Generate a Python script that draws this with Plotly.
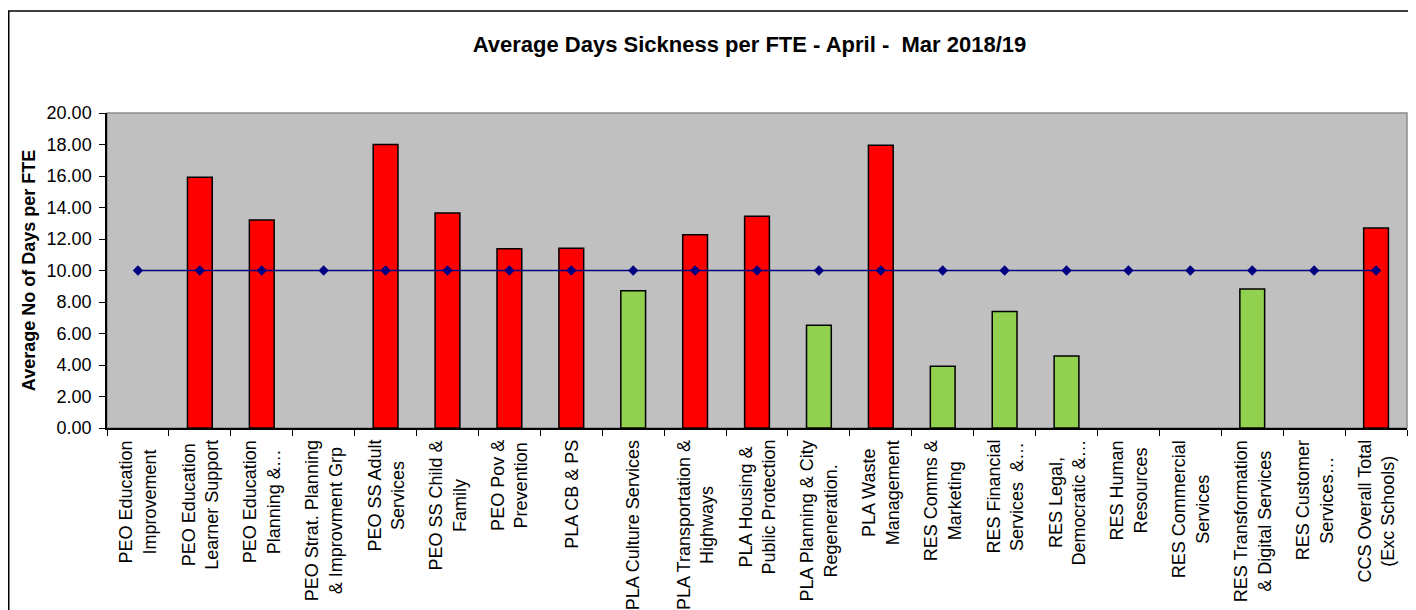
import plotly.graph_objects as go

categories = [
    "PEO Education<br>Improvement",
    "PEO Education<br>Learner Support",
    "PEO Education<br>Planning &…",
    "PEO Strat. Planning<br>& Improvment Grp",
    "PEO SS Adult<br>Services",
    "PEO SS Child &<br>Family",
    "PEO Pov &<br>Prevention",
    "PLA CB & PS",
    "PLA Culture Services",
    "PLA Transportation &<br>Highways",
    "PLA Housing &<br>Public Protection",
    "PLA Planning & City<br>Regeneration.",
    "PLA Waste<br>Management",
    "RES Comms &<br>Marketing",
    "RES Financial<br>Services  &…",
    "RES Legal,<br>Democratic &…",
    "RES Human<br>Resources",
    "RES Commercial<br>Services",
    "RES Transformation<br>& Digital Services",
    "RES Customer<br>Services…",
    "CCS Overall Total<br>(Exc Schools)",
]

avg_days = [None, 15.92, 13.2, None, 18.0, 13.65, 11.38, 11.42, 8.72, 12.27,
            13.44, 6.52, 17.96, 3.92, 7.4, 4.57, None, None, 8.83, None, 12.7]

target = [10.0] * len(categories)

y_ticks = [0, 2, 4, 6, 8, 10, 12, 14, 16, 18, 20]

RED = "#FF0000"
GREEN = "#92D050"
bar_colors = [RED if (v is not None and v > t) else GREEN for v, t in zip(avg_days, target)]

FONT = "Liberation Sans, Arial, sans-serif"

# page body has an 8px default margin; figure sized to fit the 1416x610 window
W, H = 1408, 602
L, R, T, B = 99, 9, 105, 182
PW = W - L - R
PH = H - T - B

fig = go.Figure()
fig.add_trace(go.Bar(
    x=categories, y=avg_days,
    marker=dict(color=bar_colors, line=dict(color="black", width=1.5)),
    showlegend=False, hoverinfo="x+y",
))
fig.add_trace(go.Scatter(
    x=categories, y=target, mode="lines+markers",
    line=dict(color="#000080", width=1.5),
    marker=dict(symbol="diamond", size=8, color="#000080"),
    showlegend=False,
))

# category labels, centred line by line like the original
label_annotations = [
    dict(x=c, y=0, xref="x", yref="paper", text=c, showarrow=False,
         textangle=-90, align="center", xanchor="center", yanchor="top",
         yshift=-10, font=dict(family=FONT, size=18, color="black"))
    for c in categories
]

fig.update_layout(
    width=W, height=H,
    margin=dict(l=L, r=R, t=T, b=B, autoexpand=False),
    paper_bgcolor="white",
    plot_bgcolor="#C0C0C0",
    bargap=0.6,
    font=dict(family=FONT, size=18, color="black"),
    title=dict(
        text="<b>Average Days Sickness per FTE - April -  Mar 2018/19</b>",
        x=741.5 / W, xanchor="center", xref="container",
        y=1 - 36 / H, yanchor="middle", yref="container",
        font=dict(family=FONT, size=22, color="black"),
    ),
    xaxis=dict(
        type="category",
        automargin=False,
        range=[-0.5, len(categories) - 0.5],
        showticklabels=False,
        tickson="boundaries",
        ticks="outside", ticklen=6, tickcolor="black", tickwidth=1,
        showline=True, linecolor="black", linewidth=1.5,
        showgrid=False,
    ),
    yaxis=dict(
        automargin=False,
        range=[0, 20],
        tickvals=y_ticks,
        tickformat=".2f",
        ticks="outside", ticklen=6, tickcolor="black", tickwidth=1,
        ticklabelstandoff=4,
        showline=True, linecolor="black", linewidth=1.5,
        showgrid=False, zeroline=False,
        tickfont=dict(family=FONT, size=18),
        title=dict(text="<b>Average No of Days per FTE</b>", standoff=6,
                   font=dict(family=FONT, size=18)),
    ),
    annotations=label_annotations,
    shapes=[
        dict(type="rect", xref="paper", yref="paper", x0=0, x1=1, y0=0, y1=1,
             line=dict(color="#8C8C8C", width=1.5), layer="below"),
        dict(type="rect", xref="paper", yref="paper",
             x0=(0.75 - L) / PW, x1=(W + 10 - L) / PW,
             y0=(T + PH - (H + 10)) / PH, y1=(T + PH - 3) / PH,
             line=dict(color="black", width=1.5), layer="above"),
    ],
)

fig.write_html("out.html")
